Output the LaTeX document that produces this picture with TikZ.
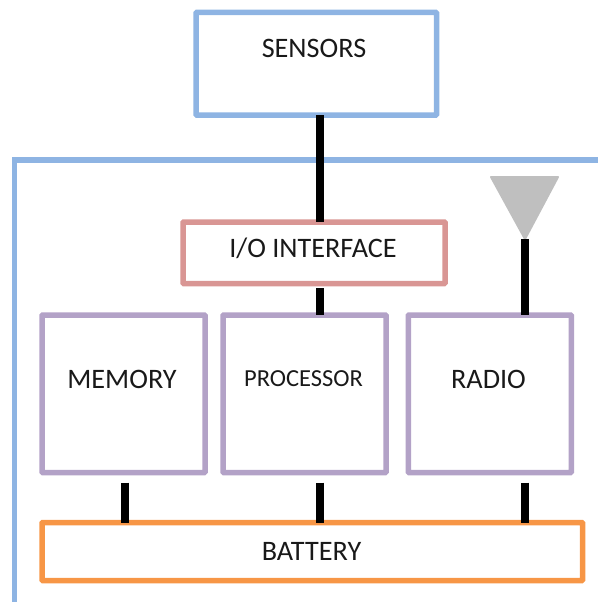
\documentclass[tikz,border=0pt]{standalone}
\usepackage{fontspec}
\setmainfont{Carlito}
\usepackage{xcolor}
\usetikzlibrary{calc}
\definecolor{frameblue}{HTML}{8EB4E3}
\definecolor{ioredc}{HTML}{D99694}
\definecolor{chippurple}{HTML}{B3A2C7}
\definecolor{battorange}{HTML}{F79646}
\definecolor{antgray}{HTML}{BFBFBF}
\tikzset{
	blockbox/.style={draw, line width=5.5pt, outer sep=0pt, inner sep=0pt, rounded corners=0.8pt},
	blocktext/.style={font=\fontsize{28.2}{28}\selectfont, text=black!90, inner sep=0pt},
	wire/.style={line width=7.5pt, black}
}
\begin{document}
\begin{tikzpicture}[x=1pt, y=-1pt]
	\useasboundingbox (0,0) rectangle (598,602);
	\coordinate (busx) at (320,0);
	\coordinate (memx) at (125,0);
	\coordinate (radx) at (525,0);
	\coordinate (lowtop) at (0,482.5);
	% outer frame runs off the page
	\draw [frameblue, line width=5.5pt] (14.5,602) -- (14.5,160) -- (598,160);
	\node [blockbox, frameblue, minimum width=240.5pt, minimum height=102.5pt] (sensors) at (316.25,63.75) {};
	\node [blockbox, ioredc, minimum width=262pt, minimum height=61.5pt] (io) at (314,252.75) {};
	\node [blockbox, chippurple, minimum width=163pt, minimum height=157.5pt] (memory) at (123.5,393.75) {};
	\node [blockbox, chippurple, minimum width=163pt, minimum height=157.5pt] (processor) at (304.5,393.75) {};
	\node [blockbox, chippurple, minimum width=163pt, minimum height=157.5pt] (radio) at (489.75,393.75) {};
	\node [blockbox, battorange, minimum width=540.5pt, minimum height=58pt] (battery) at (312.25,551.5) {};
	\node [blocktext] (sensorstext) at (314,48) {SENSORS};
	\node [blocktext] (iotext) at (313,248.5) {I/O INTERFACE};
	\node [blocktext] (memorytext) at (122,379.5) {MEMORY};
	\node [blocktext, font=\fontsize{24.5}{24}\selectfont] (processortext) at (303.5,378.5) {PROCESSOR};
	\node [blocktext] (radiotext) at (488.5,379.5) {RADIO};
	\node [blocktext] (batterytext) at (311.5,551.5) {BATTERY};
	% antenna
	\coordinate (antL) at (491,177);
	\coordinate (antR) at (558,177);
	\coordinate (antT) at (525,239);
	\filldraw [antgray, line width=2pt, line join=round] (antL) -- (antR) -- (antT) -- cycle;
	\draw [wire] (busx |- sensors.south) -- (busx |- io.north);
	\draw [wire] ($(busx |- io.south)+(0,4.5)$) -- (busx |- processor.north);
	\draw [wire] (antT) -- (radx |- radio.north);
	\draw [wire] (memx |- lowtop) -- (memx |- battery.north);
	\draw [wire] (busx |- lowtop) -- (busx |- battery.north);
	\draw [wire] (radx |- lowtop) -- (radx |- battery.north);
\end{tikzpicture}
\end{document}
